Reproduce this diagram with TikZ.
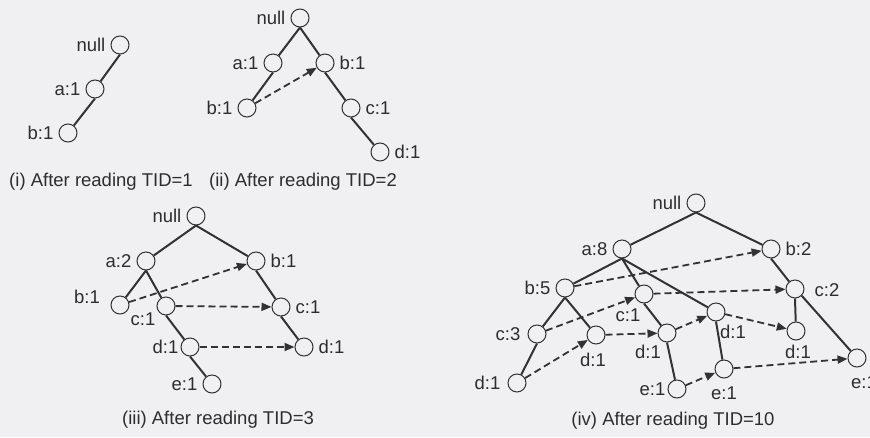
\documentclass[tikz,border=0pt]{standalone}
\usepackage{fontspec}
\setmainfont{Liberation Sans}
\usetikzlibrary{arrows.meta}
\definecolor{paper}{RGB}{240,240,242}
\definecolor{ink}{RGB}{50,50,52}
\definecolor{txt}{RGB}{45,45,48}

\begin{document}
\begin{tikzpicture}[x=1pt,y=-1pt,
  fp/.style={circle,draw=ink,line width=1pt,fill=paper,minimum size=18pt,inner sep=0pt},
  lbl/.style={text=txt,font=\fontsize{18.5}{20}\selectfont,inner sep=0pt},
  lft/.style={lbl,anchor=east,xshift=-5pt},
  rgt/.style={lbl,anchor=west,xshift=5pt},
  edge/.style={draw=ink,line width=2pt},
  link/.style={draw=ink,line width=1.8pt,dash pattern=on 7pt off 4pt,
               -{Triangle[length=10pt,width=8pt]}}]

\fill[paper] (0,0) rectangle (870,437);
\useasboundingbox (0,0) rectangle (870,437);

% ---------- (i) TID=1 ----------
\node[fp] (i-null) at (120,45) {};
\node[fp] (i-a) at (95,89) {};
\node[fp] (i-b) at (68,133) {};
\node[lft] (i-null-t) at (i-null.west) {null};
\node[lft] (i-a-t) at (i-a.west) {a:1};
\node[lft] (i-b-t) at (i-b.west) {b:1};
\draw[edge] (i-null.south) -- (i-a);
\draw[edge] (i-a.south) -- (i-b);
\node[lbl] (i-cap) at (101,182) {(i) After reading TID=1};

% ---------- (ii) TID=2 ----------
\node[fp] (ii-null) at (300,18) {};
\node[fp] (ii-a) at (273,63) {};
\node[fp] (ii-b) at (325,63) {};
\node[fp] (ii-ab) at (247,108) {};
\node[fp] (ii-c) at (351,108) {};
\node[fp] (ii-d) at (380,152) {};
\node[lft] (ii-null-t) at (ii-null.west) {null};
\node[lft] (ii-a-t) at (ii-a.west) {a:1};
\node[rgt] (ii-b-t) at (ii-b.east) {b:1};
\node[lft] (ii-ab-t) at (ii-ab.west) {b:1};
\node[rgt] (ii-c-t) at (ii-c.east) {c:1};
\node[rgt] (ii-d-t) at (ii-d.east) {d:1};
\draw[edge] (ii-null.south) -- (ii-a);
\draw[edge] (ii-null.south) -- (ii-b);
\draw[edge] (ii-a.south) -- (ii-ab);
\draw[edge] (ii-b.south) -- (ii-c);
\draw[edge] (ii-c.south) -- (ii-d);
\draw[link] (ii-ab) -- (ii-b);
\node[lbl] (ii-cap) at (303,182) {(ii) After reading TID=2};

% ---------- (iii) TID=3 ----------
\node[fp] (iii-null) at (196,216) {};
\node[fp] (iii-a) at (146,261) {};
\node[fp] (iii-b) at (256,261) {};
\node[fp] (iii-ab) at (120,305) {};
\node[fp] (iii-ac) at (166,306) {};
\node[fp] (iii-c) at (281,307) {};
\node[fp] (iii-acd) at (190,347) {};
\node[fp] (iii-d) at (304,347) {};
\node[fp] (iii-e) at (212,384) {};
\node[lft] (iii-null-t) at (iii-null.west) {null};
\node[lft] (iii-a-t) at (iii-a.west) {a:2};
\node[rgt] (iii-b-t) at (iii-b.east) {b:1};
\node[lbl] (iii-ab-t) at (87,297) {b:1};
\node[lbl] (iii-ac-t) at (143,319) {c:1};
\node[rgt] (iii-c-t) at (iii-c.east) {c:1};
\node[lft,xshift=3pt] (iii-acd-t) at (iii-acd.west) {d:1};
\node[rgt] (iii-d-t) at (iii-d.east) {d:1};
\node[lft] (iii-e-t) at (iii-e.west) {e:1};
\draw[edge] (iii-null.south) -- (iii-a);
\draw[edge] (iii-null.south) -- (iii-b);
\draw[edge] (iii-a.south) -- (iii-ab);
\draw[edge] (iii-a.south) -- (iii-ac);
\draw[edge] (iii-ac.south) -- (iii-acd);
\draw[edge] (iii-acd.south) -- (iii-e);
\draw[edge] (iii-b.south) -- (iii-c);
\draw[edge] (iii-c.south) -- (iii-d);
\draw[link] (iii-ab) -- (iii-b);
\draw[link] (iii-ac) -- (iii-c);
\draw[link] (iii-acd) -- (iii-d);
\node[lbl] (iii-cap) at (218,420) {(iii) After reading TID=3};

% ---------- (iv) TID=10 ----------
\node[fp] (iv-null) at (696,203) {};
\node[fp] (iv-a) at (622,249) {};
\node[fp] (iv-b) at (771,249) {};
\node[fp] (iv-ab) at (565,288) {};
\node[fp] (iv-ac) at (644,294) {};
\node[fp] (iv-bc) at (795,289) {};
\node[fp] (iv-abc) at (537,334) {};
\node[fp] (iv-abd) at (596,335) {};
\node[fp] (iv-acd) at (667,333) {};
\node[fp] (iv-ad) at (716,312) {};
\node[fp] (iv-bcd) at (796,331) {};
\node[fp] (iv-abcd) at (517,383) {};
\node[fp] (iv-acde) at (677,389) {};
\node[fp] (iv-ade) at (724,369) {};
\node[fp] (iv-bce) at (857,358) {};
\node[lft] (iv-null-t) at (iv-null.west) {null};
\node[lft] (iv-a-t) at (iv-a.west) {a:8};
\node[rgt] (iv-b-t) at (iv-b.east) {b:2};
\node[lft] (iv-ab-t) at (iv-ab.west) {b:5};
\node[lbl] (iv-ac-t) at (628,315) {c:1};
\node[lbl] (iv-bc-t) at (827,290) {c:2};
\node[lft,xshift=-2pt] (iv-abc-t) at (iv-abc.west) {c:3};
\node[lbl] (iv-abd-t) at (593,360) {d:1};
\node[lbl] (iv-acd-t) at (648,352) {d:1};
\node[lbl] (iv-ad-t) at (733,332) {d:1};
\node[lbl] (iv-bcd-t) at (798,352) {d:1};
\node[lft,xshift=-2pt] (iv-abcd-t) at (iv-abcd.west) {d:1};
\node[lft,xshift=3pt] (iv-acde-t) at (iv-acde.west) {e:1};
\node[lbl] (iv-ade-t) at (724,393) {e:1};
\node[lbl] (iv-bce-t) at (864,382) {e:1};
\draw[edge] (iv-null.south) -- (iv-a);
\draw[edge] (iv-null.south) -- (iv-b);
\draw[edge] (iv-a.south) -- (iv-ab);
\draw[edge] (iv-a.south) -- (iv-ac);
\draw[edge] (iv-a.south) -- (iv-ad);
\draw[edge] (iv-ab.south) -- (iv-abc);
\draw[edge] (iv-ab.south) -- (iv-abd);
\draw[edge] (iv-abc.south) -- (iv-abcd);
\draw[edge] (iv-ac.south) -- (iv-acd);
\draw[edge] (iv-acd.south) -- (iv-acde);
\draw[edge] (iv-ad.south) -- (iv-ade);
\draw[edge] (iv-b.south) -- (iv-bc);
\draw[edge] (iv-bc.south) -- (iv-bcd);
\draw[edge] (iv-bc.south east) -- (iv-bce);
\draw[link] (iv-ab) -- (iv-b);
\draw[link] (iv-ac) -- (iv-bc);
\draw[link] (iv-abc) -- (iv-ac);
\draw[link] (iv-abcd) -- (iv-abd);
\draw[link] (iv-abd) -- (iv-acd);
\draw[link] (iv-acd) -- (iv-ad);
\draw[link] (iv-ad) -- (iv-bcd);
\draw[link] (iv-acde) -- (iv-ade);
\draw[link] (iv-ade) -- (iv-bce);
\node[lbl] (iv-cap) at (673,421) {(iv) After reading TID=10};
\end{tikzpicture}
\end{document}
